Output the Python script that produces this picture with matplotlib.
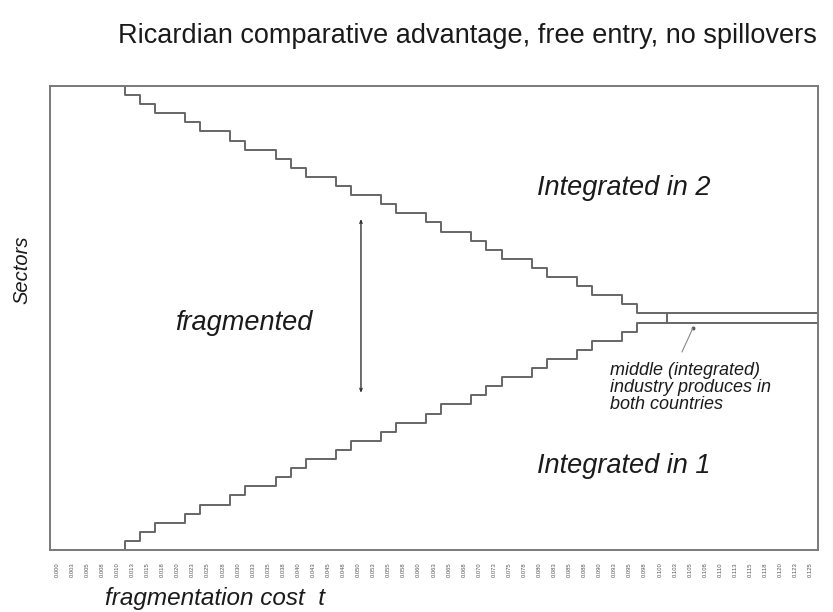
import matplotlib
matplotlib.use("Agg")
import matplotlib.pyplot as plt
import numpy as np

plt.rcParams['font.family'] = ['Liberation Sans', 'DejaVu Sans']

# fragmentation cost grid (one cell per value of t)
t_labels = ["0.000", "0.003", "0.005", "0.008", "0.010", "0.013", "0.015", "0.018",
            "0.020", "0.023", "0.025", "0.028", "0.030", "0.033", "0.035", "0.038",
            "0.040", "0.043", "0.045", "0.048", "0.050", "0.053", "0.055", "0.058",
            "0.060", "0.063", "0.065", "0.068", "0.070", "0.073", "0.075", "0.078",
            "0.080", "0.083", "0.085", "0.088", "0.090", "0.093", "0.095", "0.098",
            "0.100", "0.103", "0.105", "0.108", "0.110", "0.113", "0.115", "0.118",
            "0.120", "0.123", "0.125"]

n_sectors = 51
# upper boundary: sectors above it are integrated in country 2
upper = [51, 51, 51, 51, 51, 50, 49, 48, 48, 47, 46, 46, 45, 44, 44, 43, 42,
         41, 41, 40, 39, 39, 38, 37, 37, 36, 35, 35, 34, 33, 32, 32, 31, 30,
         30, 29, 28, 28, 27, 26, 26, 26, 26, 26, 26, 26, 26, 26, 26, 26, 26]
# lower boundary: sectors below it are integrated in country 1 (mirror image)
lower = [n_sectors - u for u in upper]
middle_integrated_from = 41  # cell where the middle sector becomes integrated

fig = plt.figure(figsize=(8.33, 6.12), dpi=100)
ax = fig.add_axes([49.5 / 833, 62 / 612, 768.5 / 833, 464 / 612])

edges = np.arange(len(t_labels) + 1)
line_col = '#666666'
ax.plot(edges, upper + [upper[-1]], drawstyle='steps-post', color=line_col, lw=1.4)
ax.plot(edges, lower + [lower[-1]], drawstyle='steps-post', color=line_col, lw=1.4)
ax.vlines(middle_integrated_from, lower[-1], upper[-1], color=line_col, lw=1.4)

ax.set_xlim(0, len(t_labels))
ax.set_ylim(0, n_sectors)
ax.set_xticks(np.arange(len(t_labels)) + 0.5)
ax.set_xticklabels(t_labels, rotation=90, fontsize=4.2, color='#555555')
ax.tick_params(axis='x', length=0, pad=9)
ax.set_yticks([])
for s in ax.spines.values():
    s.set_color('#7a7a7a')
    s.set_linewidth(1.4)

txt = dict(style='italic', color='#1a1a1a')
ax.text(32.35, 39.8, "Integrated in 2", fontsize=19.5, va='center', **txt)
ax.text(8.33, 24.95, "fragmented", fontsize=19.5, va='center', **txt)
ax.text(32.35, 9.23, "Integrated in 1", fontsize=19.5, va='center', **txt)
ax.text(37.2, 20.7, "middle (integrated)\nindustry produces in\nboth countries",
        fontsize=13, va='top', linespacing=1.02, **txt)

# double-headed arrow across the fragmented region
ax.annotate("", xy=(20.67, 36.4), xytext=(20.67, 17.26),
            arrowprops=dict(arrowstyle='<->,head_length=0.2,head_width=0.08',
                            color='#333333', lw=1.0, shrinkA=0, shrinkB=0))
# pointer to the middle industry
ax.annotate("", xy=(42.7, 24.4), xytext=(41.97, 21.76),
            arrowprops=dict(arrowstyle='-', color='#888888', lw=0.8,
                            shrinkA=0, shrinkB=0))
ax.plot([42.7], [24.4], 'o', ms=1.8, color='#555555')

fig.text(118 / 833, 1 - 36 / 612, "Ricardian comparative advantage, free entry, no spillovers",
         fontsize=19.5, va='center', ha='left', color='#1a1a1a')
fig.text(22 / 833, 1 - 270 / 612, "Sectors", rotation=90, fontsize=14.5,
         va='center', ha='center', **txt)
fig.text(105 / 833, 1 - 598 / 612, "fragmentation cost  t", fontsize=17.5,
         va='center', ha='left', **txt)

fig.savefig("out.png", dpi=100)
